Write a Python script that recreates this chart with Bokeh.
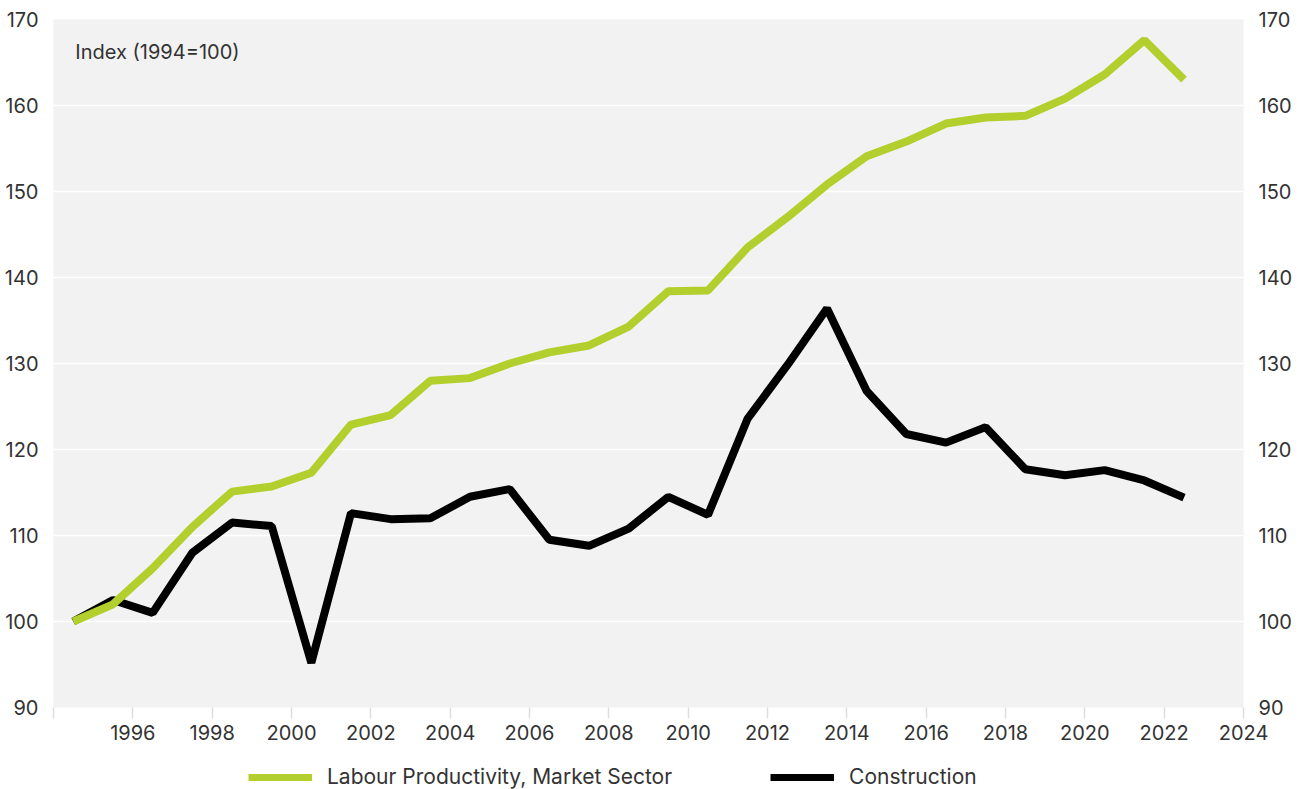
from bokeh.plotting import figure
from bokeh.layouts import column
from bokeh.models import (Range1d, LinearAxis, FixedTicker, Legend, LegendItem, Label)
from bokeh.embed import file_html
from bokeh.resources import INLINE

years = [1994.5 + i for i in range(29)]
productivity = [100, 102, 106.2, 111, 115.1, 115.7, 117.3, 122.9, 124, 128,
                128.3, 130, 131.3, 132.1, 134.3, 138.4, 138.5, 143.5, 147, 150.8,
                154.1, 155.8, 157.9, 158.6, 158.8, 160.8, 163.6, 167.6, 163]
construction = [100, 102.5, 101, 108, 111.5, 111.1, 95.2, 112.6, 111.9, 112,
                114.5, 115.4, 109.5, 108.8, 110.8, 114.5, 112.4, 123.6, 129.8, 136.4,
                126.8, 121.8, 120.8, 122.6, 117.7, 117, 117.6, 116.4, 114.4]
series_names = ["Labour Productivity, Market Sector", "Construction"]
x_ticks = list(range(1994, 2025, 2))
y_ticks = list(range(90, 171, 10))

FONT = "Inter"
TXT = "#333333"
GREEN = "#b2cf2e"
W = 1295

p = figure(width=W, height=752, output_backend="svg", toolbar_location=None,
           x_range=Range1d(1994, 2024), y_range=Range1d(90, 170),
           min_border_left=53, min_border_right=W - 1248, min_border_top=19, min_border_bottom=45,
           y_axis_location=None, x_axis_location=None)
p.background_fill_color = "#f2f2f2"
p.border_fill_color = "white"
p.outline_line_color = None

# x axis
xa = LinearAxis(ticker=FixedTicker(ticks=x_ticks),
                major_label_overrides={1994: ""})
xa.axis_line_color = None
xa.major_tick_line_color = "#dddddd"
xa.major_tick_line_width = 1.5
xa.major_tick_in = 0
xa.major_tick_out = 11
xa.minor_tick_line_color = None
xa.major_label_text_font = FONT
xa.major_label_text_font_size = "20px"
xa.major_label_text_color = TXT
xa.major_label_standoff = 6
p.add_layout(xa, "below")

for side in ("left", "right"):
    ya = LinearAxis(ticker=FixedTicker(ticks=y_ticks))
    ya.axis_line_color = None
    ya.major_tick_line_color = None
    ya.minor_tick_line_color = None
    ya.major_label_text_font = FONT
    ya.major_label_text_font_size = "20px"
    ya.major_label_text_color = TXT
    ya.major_label_standoff = 9
    p.add_layout(ya, side)

p.xgrid.grid_line_color = None
p.ygrid.ticker = FixedTicker(ticks=y_ticks)
p.ygrid.grid_line_color = "white"
p.ygrid.grid_line_width = 1.5

p.line(years, construction, line_color="black", line_width=8)
p.line(years, productivity, line_color=GREEN, line_width=8)

p.add_layout(Label(x=1994.55, y=166.2, text="Index (1994=100)", text_font=FONT,
                   text_font_size="20px", text_color=TXT, text_baseline="middle"))

# legend strip (series drawn outside its visible range, only the legend shows)
lg = figure(width=W, height=37, output_backend="svg", toolbar_location=None,
            x_range=Range1d(0, 1), y_range=Range1d(0, 1),
            min_border=0, x_axis_location=None, y_axis_location=None)
lg.outline_line_color = None
lg.xgrid.visible = False
lg.ygrid.visible = False
k1 = lg.line(years, productivity, line_color=GREEN, line_width=7)
k2 = lg.line(years, construction, line_color="black", line_width=7)
legend = Legend(items=[LegendItem(label=series_names[0], renderers=[k1]),
                       LegendItem(label=series_names[1], renderers=[k2])],
                orientation="horizontal", location=(195, 0),
                label_text_font=FONT, label_text_font_size="21px", label_text_color=TXT,
                glyph_width=64, glyph_height=22, label_standoff=15, spacing=98,
                border_line_color=None, background_fill_alpha=0, padding=0, margin=0)
lg.add_layout(legend, "center")

open("out.html", "w").write(file_html(column(p, lg, spacing=0), INLINE))
